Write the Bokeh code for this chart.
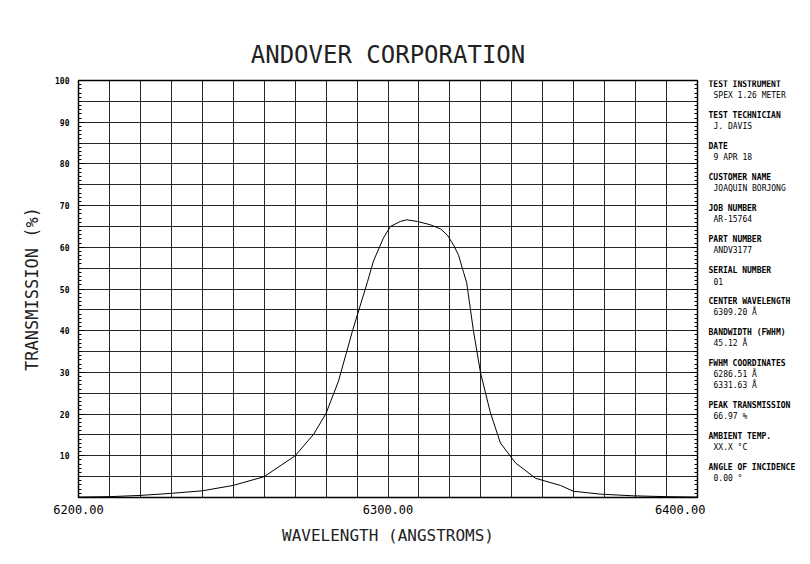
from bokeh.plotting import figure
from bokeh.layouts import row
from bokeh.models import FixedTicker, LinearAxis, Range1d
from bokeh.core.properties import value
from bokeh.embed import file_html
from bokeh.resources import INLINE

# ---- data ----
wavelength = [6200, 6210, 6220, 6230, 6240, 6250, 6260, 6270, 6276, 6280, 6284,
              6288.5, 6293.4, 6295.3, 6298.5, 6300.8, 6304, 6306, 6309.5, 6313.7,
              6317, 6319.2, 6321.2, 6322.8, 6324.4, 6325.4, 6327.6, 6329.9, 6333.1,
              6336.3, 6341.2, 6347.7, 6355.7, 6359.9, 6368.7, 6379.3, 6390, 6400]
transmission = [0.1, 0.2, 0.5, 1.0, 1.6, 2.9, 5.0, 10.0, 15.2, 20.2, 27.9,
                39.9, 51.8, 56.7, 62.2, 65.0, 66.2, 66.6, 66.2, 65.4,
                64.4, 62.9, 60.5, 58.1, 54.0, 51.6, 40.0, 29.9, 20.3,
                13.1, 8.3, 4.6, 2.9, 1.5, 0.8, 0.4, 0.2, 0.1]

x_ticks = [6200, 6300, 6400]
x_tick_labels = ["6200.00", "6300.00", "6400.00"]
y_ticks = [0, 10, 20, 30, 40, 50, 60, 70, 80, 90, 100]
y_tick_labels = ["", "10", "20", "30", "40", "50", "60", "70", "80", "90", "100"]

title_text = "ANDOVER CORPORATION"
x_label = "WAVELENGTH (ANGSTROMS)"
y_label = "TRANSMISSION (%)"

info_heads = ["TEST INSTRUMENT", "TEST TECHNICIAN", "DATE", "CUSTOMER NAME",
              "JOB NUMBER", "PART NUMBER", "SERIAL NUMBER", "CENTER WAVELENGTH",
              "BANDWIDTH (FWHM)", "FWHM COORDINATES", "PEAK TRANSMISSION",
              "AMBIENT TEMP.", "ANGLE OF INCIDENCE"]
info_values = [["SPEX 1.26 METER"], ["J. DAVIS"], ["9 APR 18"], ["JOAQUIN BORJONG"],
               ["AR-15764"], ["ANDV3177"], ["01"], ["6309.20 \u00c5"], ["45.12 \u00c5"],
               ["6286.51 \u00c5", "6331.63 \u00c5"], ["66.97 %"], ["XX.X \u00b0C"],
               ["0.00 \u00b0"]]

MONO = "DejaVu Sans Mono"
H = 560
TEXT_COL = "#222222"

p = figure(width=705, height=H, output_backend="svg", toolbar_location=None,
           x_range=Range1d(6200, 6400), y_range=Range1d(0, 100),
           min_border_left=78, min_border_right=8, min_border_top=80,
           min_border_bottom=63)
p.background_fill_color = "white"
p.border_fill_color = "white"
p.outline_line_color = "black"
p.outline_line_width = 1.5

p.title.text = title_text
p.title.align = "center"
p.title.text_font = MONO
p.title.text_font_size = "24px"
p.title.text_font_style = "normal"
p.title.text_color = TEXT_COL
p.title.standoff = 24

# grid
p.xgrid.ticker = FixedTicker(ticks=list(range(6200, 6401, 10)))
p.ygrid.ticker = FixedTicker(ticks=list(range(0, 101, 5)))
for g in (p.xgrid, p.ygrid):
    g.grid_line_color = "black"
    g.grid_line_alpha = 0.85
    g.grid_line_width = 1

# x axis
p.xaxis.ticker = FixedTicker(ticks=x_ticks)
p.xaxis.major_label_overrides = {t: l for t, l in zip(x_ticks, x_tick_labels)}
p.xaxis.major_tick_in = 0
p.xaxis.major_tick_out = 0
p.xaxis.minor_tick_in = 0
p.xaxis.minor_tick_out = 0
p.xaxis.axis_line_color = None
p.xaxis.major_label_text_font = MONO
p.xaxis.major_label_text_font_size = "12px"
p.xaxis.major_label_text_color = "black"
p.xaxis.major_label_standoff = 7
p.xaxis.axis_label = x_label
p.xaxis.axis_label_text_font = MONO
p.xaxis.axis_label_text_font_size = "16px"
p.xaxis.axis_label_text_font_style = "normal"
p.xaxis.axis_label_text_color = TEXT_COL
p.xaxis.axis_label_standoff = 9

# y axis
p.yaxis.ticker = FixedTicker(ticks=y_ticks, minor_ticks=list(range(0, 101)))
p.yaxis.major_label_overrides = {t: l for t, l in zip(y_ticks, y_tick_labels)}
p.yaxis.major_tick_in = 6
p.yaxis.major_tick_out = 0
p.yaxis.minor_tick_in = 3
p.yaxis.minor_tick_out = 0
p.yaxis.axis_line_color = None
p.yaxis.major_label_text_font = MONO
p.yaxis.major_label_text_font_size = "8px"
p.yaxis.major_label_text_font_style = "bold"
p.yaxis.major_label_text_color = "black"
p.yaxis.major_label_standoff = 9
p.yaxis.axis_label = y_label
p.yaxis.axis_label_text_font = MONO
p.yaxis.axis_label_text_font_size = "17px"
p.yaxis.axis_label_text_font_style = "normal"
p.yaxis.axis_label_text_color = TEXT_COL
p.yaxis.axis_label_standoff = 10

ry = LinearAxis(ticker=FixedTicker(ticks=y_ticks, minor_ticks=list(range(0, 101))))
ry.major_tick_in = 6
ry.major_tick_out = 0
ry.minor_tick_in = 3
ry.minor_tick_out = 0
ry.axis_line_color = None
ry.major_label_text_color = None
ry.major_label_text_font_size = "1px"
ry.major_label_standoff = 0
p.add_layout(ry, "right")

# curve
p.line(wavelength, transmission, line_color="black", line_width=1)

# ---- info panel: narrow figure whose frame is aligned with the main frame ----
FT, FB = 80, 497   # page rows covered by the (aligned) frame
q = figure(width=101, height=H, output_backend="svg", toolbar_location=None,
           x_range=Range1d(705, 806), y_range=Range1d(FB, FT),
           min_border=0, outline_line_color=None)
q.axis.visible = False
q.grid.visible = False
q.background_fill_color = "white"
q.border_fill_color = "white"

hx, hy, ht, vx, vy, vt = [], [], [], [], [], []
yy = 84
for head, vals in zip(info_heads, info_values):
    hx.append(708); hy.append(yy); ht.append(head)
    yy += 11
    for v in vals:
        vx.append(713); vy.append(yy); vt.append(v)
        yy += 11
    yy += 9

q.text(x=hx, y=hy, text=ht, text_font_size="8px", text_font_style="bold",
       text_baseline="middle", text_align="left", text_color="black",
       text_font=value(MONO))
q.text(x=vx, y=vy, text=vt, text_font_size="8px",
       text_baseline="middle", text_align="left", text_color="black",
       text_font=value(MONO))

layout = row(p, q, spacing=0)
open("out.html", "w").write(file_html(layout, INLINE))
